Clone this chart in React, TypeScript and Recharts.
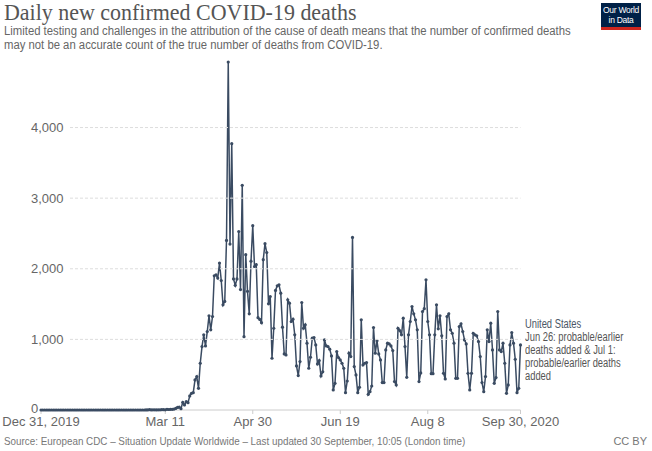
import { LineChart, Line, XAxis, YAxis } from "recharts"

// daily deaths, Dec 31 2019 .. Sep 30 2020 (one value per day)
const dec31 = [0]
const janDeaths = [
  0, 0, 0, 0, 0, 0, 0, 0, 0, 0, 0, 0, 0, 0, 0, 0, 0, 0, 0, 0, 0, 0, 0, 0, 0, 0, 0, 0, 0, 0, 0,
]
const febDeaths = [
  0, 0, 0, 0, 0, 0, 0, 0, 0, 0, 0, 0, 0, 0, 0, 0, 0, 0, 0, 0, 0, 0, 0, 0, 0, 0, 0, 0, 1,
]
const marDeaths = [
  1, 5, 1, 3, 2, 1, 2, 3, 4, 4, 3, 10, 7, 10, 10, 13, 23, 36, 40, 18, 109, 71, 118, 104, 199,
  236, 246, 426, 473, 307, 662,
]
const aprDeaths = [
  898, 1064, 908, 1111, 1333, 1135, 1324, 1900, 1915, 1868, 2080, 1834, 1489, 1537, 2402,
  4928, 2350, 3772, 1856, 1765, 1856, 2528, 1706, 3181, 1038, 2200, 1680, 1362, 2107, 2610,
]
const mayDeaths = [
  2032, 2058, 1308, 1283, 1237, 2129, 2355, 2230, 1504, 1607, 733, 1158, 1693, 1759, 1773,
  1655, 1173, 794, 780, 1560, 1513, 1253, 1286, 1064, 624, 487, 686, 1522, 1158, 1206, 946,
]
const junDeaths = [
  591, 747, 1017, 1026, 922, 652, 700, 482, 540, 993, 908, 898, 861, 766, 284, 378, 827, 742,
  709, 662, 591, 246, 411, 804, 757, 2444, 615, 496, 246, 322,
]
const julDeaths = [
  1277, 638, 662, 671, 222, 260, 340, 1168, 804, 979, 794, 709, 388, 388, 851, 946, 936, 908,
  842, 402, 355, 1158, 1125, 1064, 1300, 898, 463, 1064, 1253, 1466, 1362,
]
const augDeaths = [
  1277, 1135, 402, 525, 1395, 1435, 1844, 1253, 1064, 515, 515, 1064, 1489, 1150, 1333, 1050,
  520, 440, 1324, 1362, 1135, 1087, 946, 449, 449, 1182, 1220, 1111, 993, 936, 520,
]
const sepDeaths = [
  284, 520, 1087, 1064, 1050, 969, 756, 388, 260, 473, 1135, 969, 1229, 851, 378, 459, 1395,
  851, 827, 946, 662, 236, 355, 922, 1097, 946, 719, 246, 307, 922,
]

const xTicks = [0, 71, 121, 171, 221, 274]
const xTickLabels = ["Dec 31, 2019", "Mar 11", "Apr 30", "Jun 19", "Aug 8", "Sep 30, 2020"]
const yTicks = [0, 1000, 2000, 3000, 4000]

const allDeaths = [
  ...dec31, ...janDeaths, ...febDeaths, ...marDeaths, ...aprDeaths,
  ...mayDeaths, ...junDeaths, ...julDeaths, ...augDeaths, ...sepDeaths,
]
const data = allDeaths.map((v, i) => ({ day: i, deaths: v }))

const LINE = "#3a4b62"
const SANS = '"Liberation Sans", Arial, sans-serif'
const PLOT_RIGHT = 520.5

function YTick(props: any) {
  const { y, payload } = props
  const isZero = payload.value === 0
  return (
    <g>
      <text x={31} y={y} dy={isZero ? 2.5 : 4.5} fill="#666" fontSize={13} fontFamily={SANS}>
        {Number(payload.value).toLocaleString("en-US")}
      </text>
      {!isZero && (
        <line x1={70} x2={PLOT_RIGHT} y1={y} y2={y} stroke="#ddd" strokeDasharray="3 2" />
      )}
    </g>
  )
}

// squeeze text horizontally to match the narrow face of the original
const squeeze = (k: number): React.CSSProperties => ({
  transform: `scaleX(${k})`,
  transformOrigin: "left top",
  whiteSpace: "nowrap",
})

export default function App() {
  return (
    <div
      style={{
        position: "absolute", left: 0, top: 0, width: 652, height: 451,
        background: "#fff", overflow: "hidden", fontFamily: SANS,
      }}
    >
      <div
        style={{
          position: "absolute", left: 4, top: -1, fontSize: 24,
          fontFamily: '"Liberation Serif", "Times New Roman", serif', color: "#555",
          ...squeeze(0.915),
        }}
      >
        Daily new confirmed COVID-19 deaths
      </div>
      <div
        style={{
          position: "absolute", left: 4, top: 24, fontSize: 12.5, lineHeight: "14px",
          color: "#666", ...squeeze(0.905),
        }}
      >
        Limited testing and challenges in the attribution of the cause of death means that the
        number of confirmed deaths
        <br />
        may not be an accurate count of the true number of deaths from COVID-19.
      </div>

      {/* logo */}
      <div
        style={{
          position: "absolute", left: 601, top: 3, width: 40, height: 27,
          background: "#002147", borderBottom: "3px solid #ce261e", color: "#fff",
          fontSize: 8.5, lineHeight: "10px", textAlign: "center", paddingTop: 2,
          boxSizing: "border-box", whiteSpace: "nowrap", letterSpacing: -0.3,
        }}
      >
        Our World
        <br />
        in Data
      </div>

      <div style={{ position: "absolute", left: 0, top: 0 }}>
        <LineChart
          width={652}
          height={451}
          data={data}
          margin={{ top: 62, right: 652 - PLOT_RIGHT, bottom: 11, left: 40 }}
        >
          <XAxis
            dataKey="day"
            type="number"
            domain={[0, 274]}
            ticks={xTicks}
            interval={0}
            tickFormatter={(v) => xTickLabels[xTicks.indexOf(v)]}
            height={30}
            stroke="#ccc"
            tickSize={4}
            tickMargin={3}
            tick={{ fill: "#666", fontSize: 13, fontFamily: SANS }}
          />
          <YAxis
            width={1}
            type="number"
            domain={[0, 4928]}
            ticks={yTicks}
            interval={0}
            axisLine={false}
            tickLine={false}
            tick={(p: any) => <YTick {...p} />}
          />
          <Line
            type="linear"
            dataKey="deaths"
            stroke={LINE}
            strokeWidth={1.5}
            dot={{ r: 1.6, fill: LINE, stroke: "none" }}
            isAnimationActive={false}
          />
        </LineChart>
      </div>

      <div
        style={{
          position: "absolute", left: 525, top: 318, fontSize: 12, lineHeight: "13px",
          color: "#555", ...squeeze(0.78),
        }}
      >
        <div style={{ color: "#4a5666" }}>United States</div>
        Jun 26: probable/earlier
        <br />
        deaths added &amp; Jul 1:
        <br />
        probable/earlier deaths
        <br />
        added
      </div>

      <div
        style={{
          position: "absolute", left: 4, top: 435, fontSize: 11, color: "#777", ...squeeze(0.895),
        }}
      >
        Source: European CDC – Situation Update Worldwide – Last updated 30 September, 10:05
        (London time)
      </div>
      <div style={{ position: "absolute", right: 5, top: 435, fontSize: 11, color: "#777" }}>
        CC BY
      </div>
    </div>
  )
}
